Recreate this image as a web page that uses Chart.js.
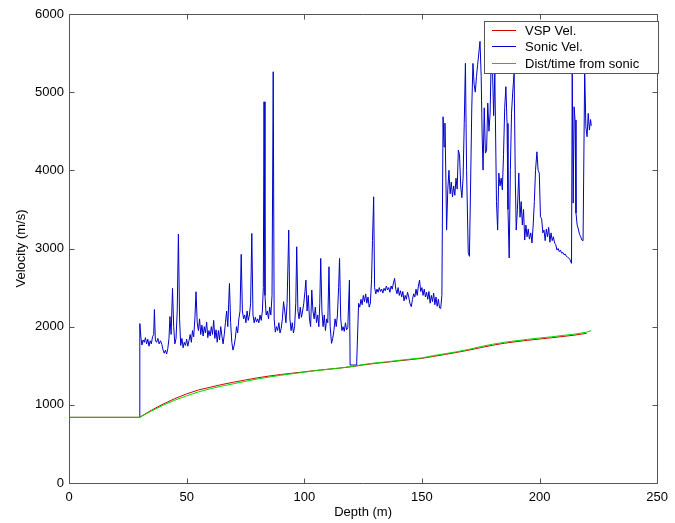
<!DOCTYPE html>
<html>
<head>
<meta charset="utf-8">
<script src="https://cdn.jsdelivr.net/npm/chart.js@4.4.1/dist/chart.umd.min.js"></script>
<style>
  html, body { margin: 0; padding: 0; background: #fff; }
  canvas { display: block; }
</style>
</head>
<body>
<canvas id="chart" width="675" height="523"></canvas>
<script>
// 축 눈금
const xTicks = [0, 50, 100, 150, 200, 250];
const yTicks = [0, 1000, 2000, 3000, 4000, 5000, 6000];

const seriesNames = ['VSP Vel.', 'Sonic Vel.', 'Dist/time from sonic'];

// VSP 속도
const vspDepth = [0, 30, 35, 40, 45, 50, 55, 60, 65, 70, 75, 80, 85, 90, 95, 100, 105, 110, 115, 120,
  125, 130, 135, 140, 145, 150, 155, 160, 165, 170, 175, 180, 185, 190, 195, 200, 205, 210, 215, 220];
const vspVel = [840, 840, 930, 1010, 1080, 1140, 1190, 1225, 1260, 1290, 1318, 1345, 1368, 1388, 1405, 1422, 1440, 1455, 1470, 1488,
  1510, 1530, 1545, 1562, 1578, 1595, 1620, 1645, 1672, 1700, 1732, 1762, 1788, 1808, 1826, 1842, 1858, 1875, 1892, 1915];

// 소닉 거리/시간
const distDepth = [0, 30, 35, 40, 45, 50, 55, 60, 65, 70, 75, 80, 85, 90, 95, 100, 105, 110, 115, 120,
  125, 130, 135, 140, 145, 150, 155, 160, 165, 170, 175, 180, 185, 190, 195, 200, 205, 210, 215, 220, 222];
const distVel = [840, 840, 920, 995, 1060, 1115, 1165, 1205, 1240, 1270, 1300, 1330, 1355, 1378, 1398, 1418, 1438, 1455, 1470, 1490,
  1515, 1535, 1550, 1568, 1585, 1600, 1630, 1655, 1680, 1710, 1745, 1775, 1800, 1820, 1838, 1855, 1870, 1888, 1905, 1930, 1948];

// 소닉 로그 속도
const sonicDepth = [
  30.0, 30.1, 30.6, 31.0, 31.5, 32.0, 32.5, 33.0, 33.5, 34.0,
  34.5, 35.0, 35.5, 36.0, 36.3, 36.7, 37.2, 37.8, 38.3, 38.9,
  39.5, 40.0, 40.5, 41.0, 41.5, 42.0, 42.5, 42.9, 43.4, 44.0,
  44.5, 45.0, 45.5, 46.0, 46.5, 47.0, 47.5, 48.0, 48.5, 49.0,
  49.5, 50.0, 50.5, 51.0, 51.5, 52.0, 52.5, 53.0, 53.5, 54.0,
  54.5, 55.0, 55.5, 56.0, 56.5, 57.0, 57.5, 58.0, 58.5, 59.0,
  59.5, 60.0, 60.5, 61.0, 61.5, 62.0, 62.5, 63.0, 63.5, 64.0,
  64.5, 65.0, 65.5, 66.0, 66.5, 67.0, 67.5, 68.2, 68.7, 69.2,
  69.7, 70.2, 70.7, 71.2, 71.7, 72.2, 72.7, 73.2, 73.7, 74.2,
  74.7, 75.2, 75.7, 76.2, 76.7, 77.2, 77.7, 78.2, 78.7, 79.2,
  79.7, 80.2, 80.7, 81.2, 81.7, 82.2, 82.6, 82.9, 83.3, 83.8,
  84.3, 84.8, 85.3, 85.8, 86.3, 86.8, 87.2, 87.7, 88.2, 88.7,
  89.2, 89.7, 90.2, 90.7, 91.2, 91.7, 92.2, 92.7, 93.4, 93.9,
  94.4, 94.9, 95.4, 95.9, 96.4, 96.8, 97.3, 97.8, 98.3, 98.8,
  99.3, 99.8, 100.3, 100.7, 101.2, 101.7, 102.2, 102.7, 103.2, 103.7,
  104.2, 104.7, 105.2, 105.7, 106.2, 106.6, 107.0, 107.5, 108.0, 108.5,
  109.0, 109.5, 110.0, 110.5, 111.0, 111.6, 112.1, 112.6, 113.1, 113.6,
  114.1, 114.6, 115.0, 115.5, 116.0, 116.5, 117.0, 117.5, 118.0, 118.5,
  119.2, 119.5, 120.5, 122.0, 122.3, 123.1, 123.6, 124.1, 124.6, 125.1,
  125.6, 126.1, 126.6, 127.1, 127.6, 128.1, 128.6, 129.0, 129.5, 129.9,
  130.4, 130.9, 131.4, 131.9, 132.4, 132.9, 133.4, 133.9, 134.4, 134.9,
  135.4, 135.9, 136.4, 136.9, 137.4, 137.9, 138.4, 138.9, 139.4, 139.9,
  140.4, 140.9, 141.4, 141.9, 142.4, 142.9, 143.4, 143.9, 144.4, 144.9,
  145.5, 146.0, 146.5, 147.0, 147.5, 148.0, 148.5, 149.0, 149.5, 150.0,
  150.5, 151.0, 151.5, 152.0, 152.5, 153.0, 153.5, 154.0, 154.5, 155.0,
  155.5, 156.0, 156.5, 157.0, 157.5, 158.0, 158.5, 159.0, 159.4, 159.8,
  160.2, 160.5, 161.0, 161.5, 162.0, 162.5, 163.0, 163.5, 164.0, 164.5,
  165.0, 165.5, 166.0, 166.5, 167.0, 167.5, 168.0, 168.5, 169.0, 169.7,
  170.2, 170.7, 171.2, 171.7, 172.2, 172.7, 173.2, 173.7, 174.2, 174.7,
  175.2, 175.6, 176.0, 176.5, 177.0, 177.5, 178.0, 178.5, 179.0, 179.5,
  180.0, 180.5, 181.0, 181.7, 182.2, 182.7, 183.2, 183.7, 184.2, 184.7,
  185.2, 185.7, 186.2, 186.6, 187.1, 187.6, 188.1, 188.6, 189.2, 189.7,
  190.1, 190.6, 191.2, 191.7, 192.2, 192.7, 193.2, 193.7, 194.2, 194.7,
  195.2, 195.7, 196.3, 196.8, 197.3, 197.8, 198.3, 198.9, 199.4, 199.9,
  200.4, 200.9, 201.4, 201.9, 202.4, 202.9, 203.4, 203.9, 204.4, 204.9,
  205.4, 205.9, 206.4, 206.9, 207.4, 207.9, 208.4, 208.9, 209.4, 209.9,
  210.4, 210.9, 211.4, 211.9, 212.4, 212.9, 213.6, 213.9, 214.3, 214.7,
  215.1, 215.5, 216.0, 216.5, 217.0, 217.5, 218.0, 218.5, 219.2, 219.7,
  220.2, 220.7, 221.2, 221.7, 222.0
];
const sonicVel = [
  840, 2040, 1850, 1765, 1830, 1800, 1860, 1780, 1840, 1750,
  1820, 1780, 1870, 1900, 2220, 1830, 1800, 1850, 1780, 1820,
  1770, 1700, 1660, 1700, 1650, 1720, 1850, 2130, 1900, 2490,
  2000, 1780, 1850, 2200, 3185, 2100, 1760, 1850, 1730, 1800,
  1760, 1840, 1750, 1820, 1900, 1800, 1950, 1870, 2100, 2447,
  2050, 1950, 2100, 1900, 2020, 1880, 2000, 1920, 2060, 1860,
  1950, 1880, 2000, 1900, 2080, 1850, 1960, 1800, 1950, 1830,
  2000, 1880, 1780, 1900, 2050, 2200, 2000, 2554, 2050, 1800,
  1700, 1760, 1850, 2000, 1920, 2100, 2200, 2925, 2200, 2100,
  2150, 2050, 2200, 2080, 2150, 2300, 3193, 2150, 2050, 2120,
  2060, 2100, 2050, 2150, 2080, 2200, 2500, 4877, 2400, 2150,
  2200, 2100, 2250, 2150, 2400, 5261, 2100, 1930, 2000, 1950,
  2050, 1920, 1980, 2100, 2320, 2200, 2050, 2300, 3236, 2100,
  1950, 2050, 1920, 2000, 2300, 3022, 2200, 2100, 2250, 2120,
  2200, 2300, 2450, 2596, 2200, 2400, 2100, 2000, 2468, 2200,
  2100, 2250, 2050, 2150, 2000, 2300, 2873, 2200, 2000, 2150,
  1950, 2100, 2050, 2766, 2000, 1787, 1850, 1950, 2100, 2000,
  2150, 2500, 2873, 2100, 1950, 2000, 1940, 2050, 1960, 1990,
  2596, 1509, 1509, 1509, 1550, 2298, 2250, 2350, 2280, 2400,
  2320, 2420, 2300, 2380, 2250, 2300, 2600, 3100, 3662, 2500,
  2420, 2480, 2440, 2500, 2450, 2480, 2430, 2490, 2460, 2520,
  2470, 2500, 2440, 2520, 2480, 2560, 2618, 2480, 2420, 2500,
  2400, 2460, 2380, 2450, 2330, 2400, 2350, 2440, 2380, 2300,
  2255, 2350, 2420, 2380, 2480, 2400, 2520, 2596, 2450, 2500,
  2400, 2480, 2380, 2440, 2350, 2450, 2300, 2400, 2320, 2430,
  2280, 2380, 2260, 2350, 2240, 2234, 2400, 4685, 4300, 4604,
  3900, 3236, 3750, 4000, 3700, 3850, 3660, 3800, 3680, 3900,
  3760, 4259, 4200, 3800, 3650, 3900, 4600, 5368, 4000, 2950,
  2900, 3800, 4800, 5368, 5100, 5000, 5200, 5350, 5500, 5650,
  5200, 4475, 4003, 4800, 4220, 4260, 4860, 4500, 4730, 5500,
  5300, 4700, 5240, 3600, 3236, 3965, 3800, 3900, 3750, 4200,
  4800, 5070, 4600, 3500, 2880, 4000, 4730, 5000, 5243, 3900,
  3236, 3500, 3965, 3400, 3600, 3300, 3500, 3108, 3300, 3150,
  3250, 3120, 3200, 3070, 3300, 3600, 4000, 4237, 4000, 3965,
  3406, 3380, 3200, 3236, 3100, 3250, 3150, 3270, 3080, 3200,
  3100, 3150, 3070, 3050, 2980, 3000, 2960, 2980, 2940, 2950,
  2920, 2930, 2900, 2890, 2880, 2860, 2810, 5282, 3581, 4813,
  4643, 3453, 3300, 3250, 3180, 3150, 3108, 3100, 5282, 4557,
  4430, 4728, 4515, 4650, 4570
];

const COLORS = ['#d40000', '#0000cc', '#00d800'];
const FONT = 'Liberation Sans, Arial, sans-serif';

const toPoints = (xs, ys) => xs.map((x, i) => ({ x, y: ys[i] }));

/** MATLAB 스타일 박스 + 안쪽 눈금 */
const framePlugin = {
  id: 'frame',
  afterDatasetsDraw(chart) {
    const { ctx, chartArea: a, scales: { x, y } } = chart;
    const L = Math.round(a.left) + 0.5, R = Math.round(a.right) + 0.5;
    const T = Math.round(a.top) + 0.5, B = Math.round(a.bottom) + 0.5;
    const len = 5;
    ctx.save();
    ctx.strokeStyle = '#555';
    ctx.lineWidth = 1;
    ctx.beginPath();
    ctx.rect(L, T, R - L, B - T);
    for (const v of xTicks) {
      const px = Math.round(x.getPixelForValue(v)) + 0.5;
      ctx.moveTo(px, B); ctx.lineTo(px, B - len);
      ctx.moveTo(px, T); ctx.lineTo(px, T + len);
    }
    for (const v of yTicks) {
      const py = Math.round(y.getPixelForValue(v)) + 0.5;
      ctx.moveTo(L, py); ctx.lineTo(L + len, py);
      ctx.moveTo(R, py); ctx.lineTo(R - len, py);
    }
    ctx.stroke();
    ctx.restore();
  },
};

/** 데이터 위에 덮는 범례 */
const legendPlugin = {
  id: 'boxLegend',
  afterDraw(chart) {
    const { ctx } = chart;
    const bx = 484, by = 21, bw = 174, bh = 52;
    ctx.save();
    ctx.fillStyle = '#fff';
    ctx.fillRect(bx, by, bw, bh);
    ctx.strokeStyle = '#555';
    ctx.lineWidth = 1;
    ctx.strokeRect(bx + 0.5, by + 0.5, bw, bh);
    ctx.font = '13px ' + FONT;
    ctx.textBaseline = 'middle';
    ctx.textAlign = 'left';
    seriesNames.forEach((name, i) => {
      const ly = Math.round(by + 9 + i * 16.4);
      ctx.fillStyle = COLORS[i];
      ctx.fillRect(bx + 8, ly, 24, 1);
      ctx.fillStyle = '#000';
      ctx.fillText(name, bx + 41, ly + 1);
    });
    ctx.restore();
  },
};

const lineSet = (label, data, color, order) => ({
  label, data, order,
  borderColor: color,
  borderWidth: 1,
  pointRadius: 0,
  tension: 0,
  fill: false,
});

new Chart(document.getElementById('chart'), {
  type: 'line',
  data: {
    datasets: [
      lineSet(seriesNames[0], toPoints(vspDepth, vspVel), COLORS[0], 3),
      lineSet(seriesNames[1], toPoints(sonicDepth, sonicVel), COLORS[1], 2),
      lineSet(seriesNames[2], toPoints(distDepth, distVel), COLORS[2], 1),
    ],
  },
  options: {
    responsive: false,
    animation: false,
    layout: { padding: { top: 14, right: 11, left: 0, bottom: 0 } },
    plugins: { legend: { display: false }, tooltip: { enabled: false } },
    scales: {
      x: {
        type: 'linear',
        min: 0, max: 250,
        afterBuildTicks: s => { s.ticks = xTicks.map(value => ({ value })); },
        afterFit: s => { s.height = 40; },
        grid: { display: false, drawTicks: false },
        border: { display: false },
        ticks: { color: '#000', padding: 7, maxRotation: 0, callback: v => String(v), font: { family: FONT, size: 13 } },
        title: { display: true, text: 'Depth (m)', color: '#000', padding: { top: 0, bottom: 3 }, font: { family: FONT, size: 13 } },
      },
      y: {
        min: 0, max: 6000,
        afterBuildTicks: s => { s.ticks = yTicks.map(value => ({ value })); },
        afterFit: s => { s.width = 69; },
        grid: { display: false, drawTicks: false },
        border: { display: false },
        ticks: { color: '#000', padding: 5, callback: v => String(v), font: { family: FONT, size: 13 } },
        title: { display: true, text: 'Velocity (m/s)', color: '#000', padding: { top: 14, bottom: 0 }, font: { family: FONT, size: 13 } },
      },
    },
  },
  plugins: [framePlugin, legendPlugin],
});
</script>
</body>
</html>
